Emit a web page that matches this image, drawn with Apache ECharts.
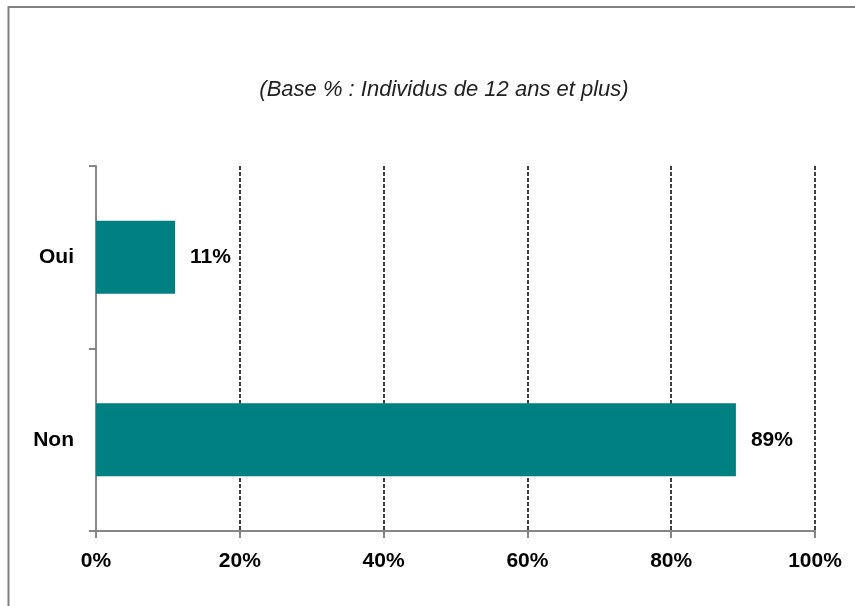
<!DOCTYPE html>
<html>
<head>
<meta charset="utf-8">
<script src="https://cdn.jsdelivr.net/npm/echarts@6/dist/echarts.min.js"></script>
<style>
  html, body { margin: 0; padding: 0; background: #fff; }
  #chart { width: 855px; height: 606px; }
</style>
</head>
<body>
<div id="chart"></div>
<script>
// Données
const categories = ["Oui", "Non"];
const values = [11, 89];
const xTicks = [0, 20, 40, 60, 80, 100];

const chart = echarts.init(document.getElementById("chart"));

const option = {
  animation: false,
  backgroundColor: "#fff",
  title: {
    text: "(Base % : Individus de 12 ans et plus)",
    left: 439,
    top: 74,
    textAlign: "center",
    textStyle: {
      fontFamily: "Liberation Sans",
      fontStyle: "italic",
      fontWeight: "normal",
      fontSize: 22,
      color: "#222",
    },
  },
  // cadre autour du graphique
  graphic: [
    {
      type: "rect",
      shape: { x: 8.5, y: 7, width: 860, height: 620 },
      style: { fill: "none", stroke: "#808080", lineWidth: 2 },
      silent: true,
    },
  ],
  grid: { left: 96, right: 40, top: 166, bottom: 75 },
  xAxis: {
    type: "value",
    min: xTicks[0],
    max: xTicks[xTicks.length - 1],
    interval: 20,
    axisLine: { show: true, lineStyle: { color: "#868686", width: 2 } },
    axisTick: { show: true, length: 7, lineStyle: { color: "#868686", width: 2 } },
    axisLabel: {
      formatter: (v) => v + "%",
      margin: 20,
      fontFamily: "Liberation Sans",
      fontWeight: "bold",
      fontSize: 21,
      color: "#000",
    },
    splitLine: {
      show: true,
      lineStyle: { color: "#000", type: [4, 2], width: 1.5 },
    },
  },
  yAxis: {
    type: "category",
    data: categories,
    inverse: true,
    axisLine: { show: true, lineStyle: { color: "#868686", width: 2 } },
    axisTick: { show: true, length: 7, lineStyle: { color: "#868686", width: 2 } },
    axisLabel: {
      margin: 22,
      fontFamily: "Liberation Sans",
      fontWeight: "bold",
      fontSize: 21,
      color: "#000",
    },
    splitLine: { show: false },
  },
  series: [
    {
      type: "bar",
      data: values,
      barCategoryGap: "60%",
      itemStyle: { color: "#008080" },
      label: {
        show: true,
        position: "right",
        distance: 15,
        formatter: (p) => p.value + "%",
        fontFamily: "Liberation Sans",
        fontWeight: "bold",
        fontSize: 21,
        color: "#000",
      },
    },
  ],
};

chart.setOption(option);
</script>
</body>
</html>
